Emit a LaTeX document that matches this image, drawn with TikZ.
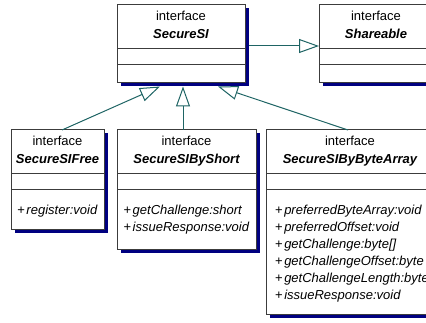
\documentclass[tikz,border=0pt]{standalone}
\usepackage{fontspec}
\setmainfont{Liberation Sans}
\usetikzlibrary{arrows.meta,calc,shadows}

\definecolor{shadowblue}{RGB}{0,0,128}
\definecolor{linkteal}{RGB}{30,100,100}
\definecolor{edgegray}{RGB}{60,60,60}

\tikzset{
  umlbox/.style={draw=edgegray, line width=1pt, fill=white, inner sep=0pt, outer sep=0pt,
    drop shadow={fill=shadowblue, opacity=1, shadow xshift=3.5pt, shadow yshift=-3.5pt}},
  divider/.style={draw=edgegray, line width=1pt},
  txtline/.style={font=\fontsize{13}{17}\selectfont, inner sep=0pt, anchor=base},
  headname/.style={txtline, font=\fontsize{13}{17}\selectfont\bfseries\itshape},
  realize/.style={draw=linkteal, line width=1pt,
    -{Triangle[length=20pt, width=14pt, fill=white, line width=1pt]}},
}

\newcommand{\oplist}[1]{\begin{tabular}[t]{@{}l@{}}#1\end{tabular}}
\newcommand{\op}[1]{+\hspace{1.5pt}\textit{#1}}

\begin{document}
\begin{tikzpicture}[x=1pt, y=-1pt]
  \useasboundingbox (0,0) rectangle (426,323);
  \clip (0,0) rectangle (426,323);

  % class boxes
  \node[umlbox, minimum width=128pt, minimum height=78pt]  (si)    at (181,44)    {};
  \node[umlbox, minimum width=120pt, minimum height=78pt]  (sh)    at (379,44)    {};
  \node[umlbox, minimum width=93pt,  minimum height=100pt] (free)  at (57.5,180)  {};
  \node[umlbox, minimum width=139pt, minimum height=120pt] (short) at (186.5,190) {};
  \node[umlbox, minimum width=172pt, minimum height=185pt] (byte)  at (352,222.5) {};

  % compartment dividers
  \foreach \b in {si, sh, free, short, byte} {
    \draw[divider] ($(\b.north west)+(0,44)$) -- ($(\b.north east)+(0,44)$);
    \draw[divider] ($(\b.north west)+(0,59.5)$) -- ($(\b.north east)+(0,59.5)$);
  }

  % headers
  \node[txtline]  (si-kind)    at ($(si.north)+(0,15.5)$)      {interface};
  \node[headname] (si-name)    at ($(si.north)+(0,33.5)$)      {SecureSI};
  \node[txtline]  (sh-kind)    at ($(sh.north)+(-3,15.5)$)     {interface};
  \node[headname] (sh-name)    at ($(sh.north)+(-3,33.5)$)     {Shareable};
  \node[txtline]  (free-kind)  at ($(free.north)+(0,15.5)$)    {interface};
  \node[headname] (free-name)  at ($(free.north)+(0,33.5)$)    {SecureSIFree};
  \node[txtline]  (short-kind) at ($(short.north)+(0,15.5)$)   {interface};
  \node[headname] (short-name) at ($(short.north)+(0,33.5)$)   {SecureSIByShort};
  \node[txtline]  (byte-kind)  at ($(byte.north)+(-2,15.5)$)   {interface};
  \node[headname] (byte-name)  at ($(byte.north)+(-2,33.5)$)   {SecureSIByByteArray};

  % operations
  \node[txtline] (free-ops) at ($(free.north)+(0,85)$)
    {\oplist{\op{register:void}}};
  \node[txtline] (short-ops) at ($(short.north)+(0,85)$)
    {\oplist{\op{getChallenge:short}\\ \op{issueResponse:void}}};
  \node[txtline] (byte-ops) at ($(byte.north)+(0,85)$)
    {\oplist{\op{preferredByteArray:void}\\ \op{preferredOffset:void}\\
             \op{getChallenge:byte[]}\\ \op{getChallengeOffset:byte}\\
             \op{getChallengeLength:byte}\\ \op{issueResponse:void}}};

  % generalisations
  \draw[realize] ([xshift=3.5pt, yshift=-2pt]si.east) -- ([yshift=-2pt]sh.west);
  \draw[realize] ([xshift=4.5pt]free.north) -- ([xshift=-21pt, yshift=-3.5pt]si.south);
  \draw[realize] ([xshift=-3.5pt]short.north) -- ([xshift=2pt, yshift=-3.5pt]si.south);
  \draw[realize] ([xshift=-4pt]byte.north) -- ([xshift=37pt, yshift=-3.5pt]si.south);
\end{tikzpicture}
\end{document}
